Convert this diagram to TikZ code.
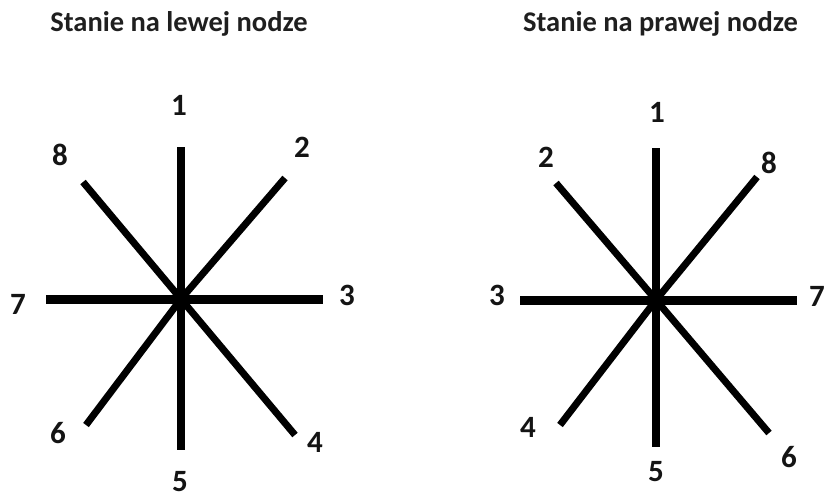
\documentclass[tikz,border=0pt]{standalone}
\usepackage{fontspec}
\setmainfont{Carlito}
\begin{document}
\begin{tikzpicture}[x=1pt,y=-1pt,
  ttl/.style={font=\fontsize{28.5}{30}\selectfont\bfseries, text=black!88, inner sep=0pt},
  num/.style={font=\fontsize{31}{32}\selectfont\bfseries, text=black!92, inner sep=0pt},
  ray/.style={line width=7pt, line cap=butt},
  vray/.style={line width=8pt, line cap=butt},
  hray/.style={line width=9pt, line cap=butt}]
\useasboundingbox (0,0) rectangle (827,499);
\fill[white] (0,0) rectangle (827,499);

% Titles
\node[ttl] (tl) at (179,24) {Stanie na lewej nodze};
\node[ttl] (tr) at (660.5,24) {Stanie na prawej nodze};

% Left star
\coordinate (Lc) at (181,299);
\coordinate (L1) at (181,147);
\coordinate (L5) at (181,450);
\coordinate (L7) at (46,299);
\coordinate (L3) at (323,299);
\coordinate (L8) at (83,182);
\coordinate (L2) at (285,178);
\coordinate (L6) at (86,425);
\coordinate (L4) at (295,435);
\draw[vray] (Lc) -- (L1);
\draw[vray] (Lc) -- (L5);
\draw[hray] (Lc) -- (L7);
\draw[hray] (Lc) -- (L3);
\draw[ray] (Lc) -- (L8);
\draw[ray] (Lc) -- (L2);
\draw[ray] (Lc) -- (L6);
\draw[ray] (Lc) -- (L4);
\node[num] (nl1) at (179,105) {1};
\node[num] (nl8) at (60,155) {8};
\node[num] (nl2) at (302,147) {2};
\node[num] (nl7) at (18,304) {7};
\node[num] (nl3) at (347,295) {3};
\node[num] (nl6) at (58,433) {6};
\node[num] (nl4) at (315,442) {4};
\node[num] (nl5) at (180,482) {5};

% Right star
\coordinate (Rc) at (656,300);
\coordinate (R1) at (656,148);
\coordinate (R5) at (656,447);
\coordinate (R3) at (520,300);
\coordinate (R7) at (797,300);
\coordinate (R2) at (556,183);
\coordinate (R8) at (757,177);
\coordinate (R4) at (560,425);
\coordinate (R6) at (769,433);
\draw[vray] (Rc) -- (R1);
\draw[vray] (Rc) -- (R5);
\draw[hray] (Rc) -- (R3);
\draw[hray] (Rc) -- (R7);
\draw[ray] (Rc) -- (R2);
\draw[ray] (Rc) -- (R8);
\draw[ray] (Rc) -- (R4);
\draw[ray] (Rc) -- (R6);
\node[num] (nr1) at (657,112) {1};
\node[num] (nr2) at (546,157) {2};
\node[num] (nr8) at (769,163) {8};
\node[num] (nr3) at (497,295) {3};
\node[num] (nr7) at (817,296) {7};
\node[num] (nr4) at (528,427) {4};
\node[num] (nr5) at (656,472) {5};
\node[num] (nr6) at (789,457) {6};
\end{tikzpicture}
\end{document}
